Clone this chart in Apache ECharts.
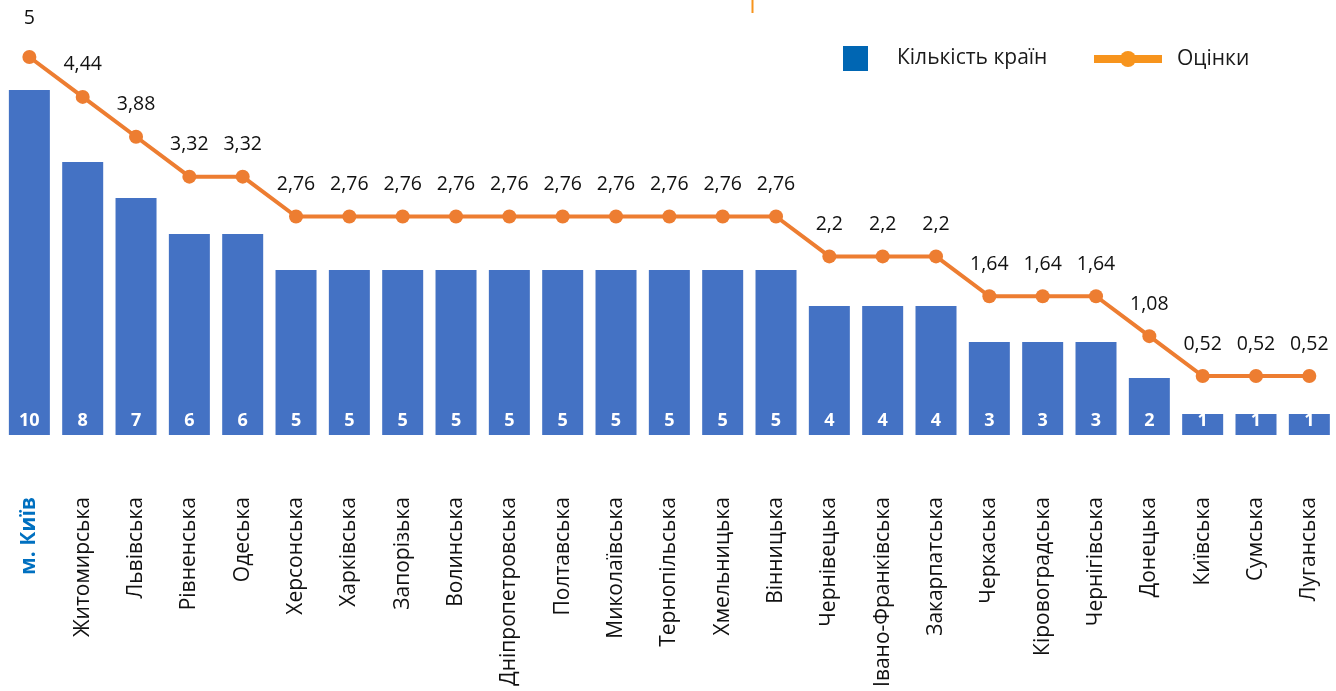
<!DOCTYPE html>
<html>
<head>
<meta charset="utf-8">
<script src="https://cdn.jsdelivr.net/npm/echarts@6/dist/echarts.min.js"></script>
<style>
html,body{margin:0;padding:0;background:#fff;}
#chart{width:1336px;height:691px;}
</style>
</head>
<body>
<div id="chart"></div>
<script>
const categories = ['м. Київ','Житомирська','Львівська','Рівненська','Одеська','Херсонська','Харківська','Запорізька','Волинська','Дніпропетровська','Полтавська','Миколаївська','Тернопільська','Хмельницька','Вінницька','Чернівецька','Івано-Франківська','Закарпатська','Черкаська','Кіровоградська','Чернігівська','Донецька','Київська','Сумська','Луганська'];
const countValues = [10,8,7,6,6,5,5,5,5,5,5,5,5,5,5,4,4,4,3,3,3,2,1,1,1];
const scoreValues = [5,4.44,3.88,3.32,3.32,2.76,2.76,2.76,2.76,2.76,2.76,2.76,2.76,2.76,2.76,2.2,2.2,2.2,1.64,1.64,1.64,1.08,0.52,0.52,0.52];
const seriesNames = ['Кількість країн','Оцінки'];

const FONT = '"Open Sans", sans-serif';
const chart = echarts.init(document.getElementById('chart'), null, {renderer:'canvas'});

const scoreData = scoreValues.map((v,i)=> i===0 ? {value:v, label:{distance:22}} : v);

chart.setOption({
  backgroundColor:'#ffffff',
  animation:false,
  textStyle:{fontFamily:FONT},
  grid:{left:2.7, right:-4.8, top:0, bottom:256, containLabel:false},
  legend:[
    {data:[{name:seriesNames[0], icon:'rect', itemStyle:{color:'#0066B3'}}], left:838, top:41, itemWidth:25, itemHeight:25,
     textStyle:{fontFamily:FONT, fontSize:21, color:'#1a1a1a', padding:[0,0,0,24], lineHeight:25}},
    {data:[{name:seriesNames[1], itemStyle:{color:'#F7941D'}, lineStyle:{color:'#F7941D', width:8}}], left:1085, top:43.5, itemWidth:68, itemHeight:20,
     textStyle:{fontFamily:FONT, fontSize:21, color:'#1a1a1a', padding:[0,0,0,10], lineHeight:20}}
  ],
  xAxis:{
    type:'category', data:categories,
    axisLine:{show:false}, axisTick:{show:false},
    axisLabel:{
      rotate:90, margin:62, interval:0, fontFamily:FONT, fontSize:21, color:'#111',
      formatter:(v,i)=> i===0 ? '{b|'+v+'}' : v,
      rich:{b:{fontFamily:FONT, fontSize:21, fontWeight:'bold', color:'#0070C0'}}
    }
  },
  yAxis:[
    {type:'value', min:15/36, max:12.5, show:false, splitLine:{show:false}},
    {type:'value', min:-0.3085, max:5.8006, show:false, splitLine:{show:false}}
  ],
  graphic:[
    {type:'line', shape:{x1:752.5, y1:0, x2:752.5, y2:13}, style:{stroke:'#F7941D', lineWidth:2}}
  ],
  series:[
    {name:seriesNames[0], type:'bar', yAxisIndex:0, data:countValues, barWidth:41,
     itemStyle:{color:'#4472C4'},
     label:{show:true, position:'insideBottom', distance:5, color:'#fff', fontWeight:'bold', fontSize:18, fontFamily:FONT}},
    {name:seriesNames[1], type:'line', yAxisIndex:1, data:scoreData,
     lineStyle:{color:'#ED7D31', width:4}, itemStyle:{color:'#ED7D31'},
     symbol:'circle', symbolSize:14,
     label:{show:true, position:'top', distance:15, color:'#111', fontSize:19.5, fontFamily:FONT,
       formatter:(p)=> String(p.value).replace('.',',')}}
  ]
});
</script>
</body>
</html>
